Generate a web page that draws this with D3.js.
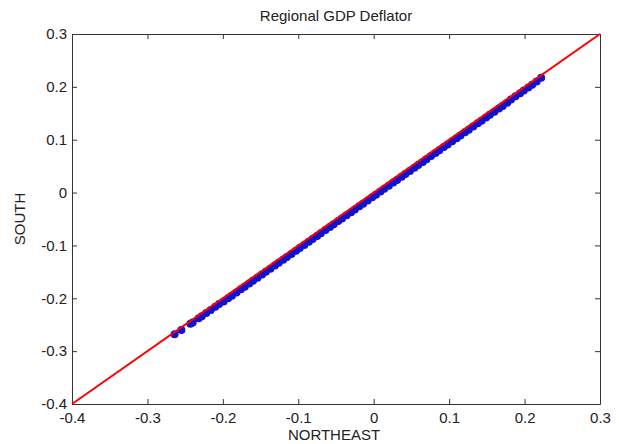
<!DOCTYPE html>
<html>
<head>
<meta charset="utf-8">
<script src="https://cdn.jsdelivr.net/npm/d3@7"></script>
<style>
  body { margin: 0; background: #fff; }
  svg { display: block; font-family: "Liberation Sans", Arial, sans-serif; }
</style>
</head>
<body>
<div id="vis"></div>
<script>
const FRAME_WIDTH = 619;
const FRAME_HEIGHT = 444;
const MARGINS = {top: 34, bottom: 40, left: 72, right: 19};
const VIS_WIDTH = FRAME_WIDTH - MARGINS.left - MARGINS.right;
const VIS_HEIGHT = FRAME_HEIGHT - MARGINS.top - MARGINS.bottom;

// data
const X_TICKS = [-0.4, -0.3, -0.2, -0.1, 0, 0.1, 0.2, 0.3];
const Y_TICKS = [-0.4, -0.3, -0.2, -0.1, 0, 0.1, 0.2, 0.3];
const REF_LINE = [-0.4, 0.3];

const NORTHEAST = [-0.264, -0.255, -0.243, -0.240, -0.232, -0.228, -0.222, -0.216, -0.210, -0.205,
  -0.199, -0.193, -0.188, -0.182, -0.176, -0.171, -0.165, -0.160, -0.154, -0.148,
  -0.143, -0.137, -0.131, -0.126, -0.120, -0.115, -0.109, -0.103, -0.098, -0.092,
  -0.086, -0.081, -0.075, -0.070, -0.064, -0.058, -0.053, -0.047, -0.042, -0.036,
  -0.030, -0.025, -0.019, -0.014, -0.008, -0.002, 0.003, 0.009, 0.014, 0.020,
  0.026, 0.031, 0.037, 0.042, 0.048, 0.054, 0.059, 0.065, 0.070, 0.076,
  0.082, 0.087, 0.093, 0.098, 0.104, 0.110, 0.115, 0.121, 0.126, 0.132,
  0.138, 0.143, 0.149, 0.154, 0.160, 0.166, 0.171, 0.177, 0.182, 0.188,
  0.194, 0.199, 0.205, 0.210, 0.216, 0.222];

const SOUTH = [-0.268, -0.260, -0.248, -0.246, -0.238, -0.234, -0.228, -0.222, -0.216, -0.211,
  -0.206, -0.200, -0.195, -0.189, -0.183, -0.178, -0.172, -0.167, -0.161, -0.155,
  -0.150, -0.144, -0.138, -0.133, -0.127, -0.122, -0.116, -0.110, -0.105, -0.099,
  -0.093, -0.088, -0.082, -0.077, -0.071, -0.065, -0.060, -0.054, -0.049, -0.043,
  -0.037, -0.032, -0.026, -0.021, -0.015, -0.009, -0.004, 0.002, 0.007, 0.013,
  0.019, 0.024, 0.030, 0.035, 0.041, 0.047, 0.052, 0.058, 0.063, 0.069,
  0.075, 0.080, 0.086, 0.091, 0.097, 0.103, 0.108, 0.114, 0.119, 0.125,
  0.131, 0.136, 0.142, 0.147, 0.153, 0.159, 0.164, 0.170, 0.176, 0.182,
  0.188, 0.193, 0.199, 0.204, 0.210, 0.217];

const FRAME1 = d3.select("#vis")
  .append("svg")
    .attr("width", FRAME_WIDTH)
    .attr("height", FRAME_HEIGHT);

const X_SCALE = d3.scaleLinear().domain([-0.4, 0.3]).range([0, VIS_WIDTH]);
const Y_SCALE = d3.scaleLinear().domain([-0.4, 0.3]).range([VIS_HEIGHT, 0]);

const plot = FRAME1.append("g")
  .attr("transform", `translate(${MARGINS.left},${MARGINS.top})`);

// plain hyphen minus, like the original labels
const fmt = (d) => Math.abs(d) < 1e-9 ? "0" : d.toFixed(1);
const AXIS_COLOR = "#333";

// axes with inward ticks on all four sides
function styleAxis(g) {
  g.select(".domain").attr("stroke", AXIS_COLOR);
  g.selectAll(".tick line").attr("stroke", AXIS_COLOR);
  g.selectAll(".tick text").attr("fill", "#222").attr("font-size", 15);
}

plot.append("g")
  .attr("transform", `translate(0,${VIS_HEIGHT})`)
  .call(d3.axisBottom(X_SCALE).tickValues(X_TICKS).tickFormat(fmt)
    .tickSizeInner(-5).tickSizeOuter(0).tickPadding(8))
  .call(styleAxis);

plot.append("g")
  .call(d3.axisTop(X_SCALE).tickValues(X_TICKS).tickFormat("")
    .tickSizeInner(-5).tickSizeOuter(0))
  .call(styleAxis);

plot.append("g")
  .call(d3.axisLeft(Y_SCALE).tickValues(Y_TICKS).tickFormat(fmt)
    .tickSizeInner(-5).tickSizeOuter(0).tickPadding(5))
  .call(styleAxis);

plot.append("g")
  .attr("transform", `translate(${VIS_WIDTH},0)`)
  .call(d3.axisRight(Y_SCALE).tickValues(Y_TICKS).tickFormat("")
    .tickSizeInner(-5).tickSizeOuter(0))
  .call(styleAxis);

// quantile points
const pts = NORTHEAST.map((x, i) => ({x: x, y: SOUTH[i]}));
plot.selectAll(".pt")
  .data(pts)
  .enter()
  .append("circle")
    .attr("class", "pt")
    .attr("cx", (d) => X_SCALE(d.x))
    .attr("cy", (d) => Y_SCALE(d.y))
    .attr("r", 4)
    .attr("fill", "#1212cc");

// reference line
plot.append("line")
  .attr("x1", X_SCALE(REF_LINE[0]))
  .attr("y1", Y_SCALE(REF_LINE[0]))
  .attr("x2", X_SCALE(REF_LINE[1]))
  .attr("y2", Y_SCALE(REF_LINE[1]))
  .attr("stroke", "#ff0000")
  .attr("stroke-width", 2);

// labels
FRAME1.append("text")
  .attr("x", MARGINS.left + VIS_WIDTH / 2)
  .attr("y", 21)
  .attr("text-anchor", "middle")
  .attr("font-size", 15)
  .attr("fill", "#222")
  .text("Regional GDP Deflator");

FRAME1.append("text")
  .attr("x", MARGINS.left + VIS_WIDTH / 2 - 2)
  .attr("y", 440)
  .attr("text-anchor", "middle")
  .attr("font-size", 15)
  .attr("fill", "#222")
  .text("NORTHEAST");

FRAME1.append("text")
  .attr("transform", `translate(25,${MARGINS.top + VIS_HEIGHT / 2}) rotate(-90)`)
  .attr("text-anchor", "middle")
  .attr("font-size", 15)
  .attr("fill", "#222")
  .text("SOUTH");
</script>
</body>
</html>
